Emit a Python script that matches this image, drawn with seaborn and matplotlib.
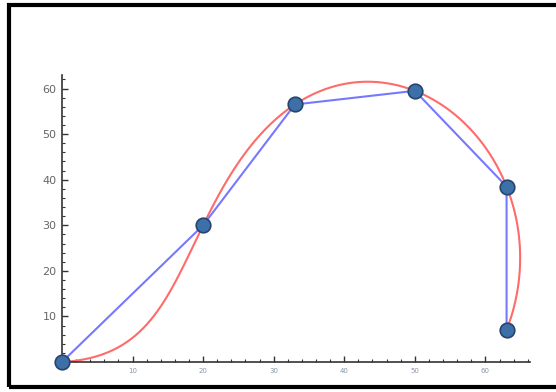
import numpy as np
import pandas as pd
import matplotlib
matplotlib.use("Agg")
import matplotlib.pyplot as plt
import matplotlib.patches as patches
from matplotlib.ticker import MultipleLocator
import seaborn as sns

# control points
x_pts = [0, 20, 33, 50, 63, 63]
y_pts = [0, 30, 56.5, 59.5, 38.5, 7]
x_ticks = [10, 20, 30, 40, 50, 60]
y_ticks = [10, 20, 30, 40, 50, 60]

# parameter value of each control point for the interpolating curve
t_knots = [0, 2.004, 3.463, 4.766, 5.943, 6.943]


def interp_poly(t, v, tt):
    """
    Polynomial through all (t, v), evaluated at tt
    """
    coef = np.linalg.solve(np.vander(t, len(t)), v)
    return np.polyval(coef, tt)


xp = np.array(x_pts, float)
yp = np.array(y_pts, float)
t = np.array(t_knots, float)
tt = np.linspace(t[0], t[-1], 500)
curve = pd.DataFrame({"x": interp_poly(t, xp, tt), "y": interp_poly(t, yp, tt)})
pts = pd.DataFrame({"x": xp, "y": yp})

sns.set_style("white")
fig = plt.figure(figsize=(5.56, 3.92), dpi=100)
ax = fig.add_axes([0.1115, 0.0765, 0.8415, 0.7325])

sns.lineplot(data=curve, x="x", y="y", sort=False, estimator=None, color="#ff6b6b", lw=1.5, ax=ax)
sns.lineplot(data=pts, x="x", y="y", sort=False, estimator=None, color="#7878ff", lw=1.5, ax=ax)
sns.scatterplot(data=pts, x="x", y="y", s=110, color="#3d6fa8", edgecolor="#25456b", linewidth=1.2,
                zorder=5, clip_on=False, ax=ax)

ax.set_xlim(0, 66.3)
ax.set_ylim(0, 63)
ax.set_xticks(x_ticks)
ax.set_yticks(y_ticks)
ax.xaxis.set_minor_locator(MultipleLocator(2))
ax.yaxis.set_minor_locator(MultipleLocator(2))
ax.tick_params(which="both", bottom=True, left=True, direction="in", color="#333333")
ax.tick_params(which="major", length=4.5, width=1, pad=4)
ax.tick_params(which="minor", length=2.5, width=0.8)
ax.tick_params(axis="y", labelsize=8, labelcolor="#666666")
ax.tick_params(axis="x", labelsize=5, labelcolor="#8a96a8")
ax.set_xlabel("")
ax.set_ylabel("")
sns.despine(ax=ax)
for s in ["left", "bottom"]:
    ax.spines[s].set_color("#333333")
    ax.spines[s].set_linewidth(1.2)

# black frame around the picture
fig.patches.append(patches.Rectangle((9 / 556, 5 / 392), 1.1, 382 / 392, transform=fig.transFigure,
                                     fill=False, edgecolor="black", lw=3))

plt.savefig("out.png", dpi=100)
